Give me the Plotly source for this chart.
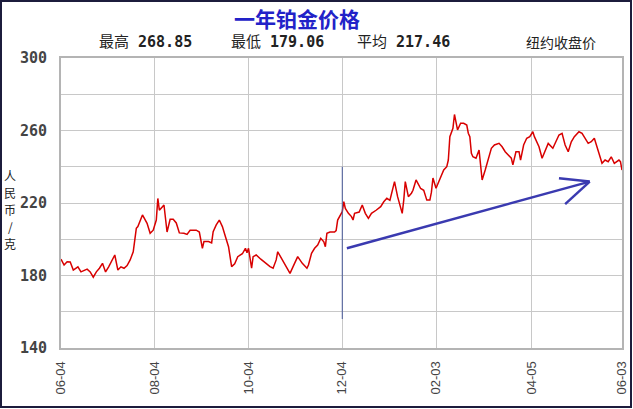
import pandas as pd
import plotly.graph_objects as go

# ---- data ----
start_date = "2003-06-04"
days = [0, 2, 4, 6, 8, 11, 13, 17, 19, 21, 23, 25, 27, 29, 31, 35, 37, 39, 41, 43, 45, 47, 49, 50,
        53, 55, 56, 58, 60, 62, 63, 64, 67, 69, 71, 73, 75, 77, 80, 82, 84, 88, 90, 92, 93, 96, 98,
        99, 101, 103, 105, 107, 109, 111, 113, 115, 118, 120, 121, 122, 124, 125, 127, 130, 132,
        134, 136, 138, 140, 141, 144, 146, 148, 149, 151, 153, 154, 157, 159, 160, 161, 163, 165,
        167, 169, 171, 172, 173, 175, 178, 179, 180, 183, 184, 185, 187, 189, 190, 191, 194, 196,
        198, 200, 202, 205, 208, 210, 212, 214, 216, 217, 219, 222, 223, 224, 226, 228, 229, 231,
        234, 236, 238, 240, 241, 242, 244, 247, 249, 251, 252, 253, 255, 256, 258, 260, 262, 264,
        265, 266, 267, 268, 270, 272, 273, 274, 276, 278, 280, 282, 285, 287, 289, 291, 293, 294,
        296, 298, 299, 301, 303, 305, 307, 308, 311, 313, 315, 317, 320, 324, 326, 328, 330, 332,
        334, 337, 339, 341, 343, 345, 347, 350, 352, 354, 356, 358, 360, 363, 364, 365]
prices = [189.0, 185.8, 187.6, 187.5, 183.0, 184.8, 182.0, 183.5, 182.0, 179.06, 182.0, 184.0, 186.7,
          182.0, 184.8, 191.3, 183.0, 184.8, 184.0, 185.5, 188.6, 193.1, 206.0, 207.0, 213.4, 210.5,
          208.8, 203.3, 205.0, 210.6, 222.5, 216.0, 218.9, 204.0, 211.0, 211.0, 209.0, 203.5, 203.3,
          202.7, 205.0, 205.0, 204.0, 195.0, 198.7, 198.7, 198.0, 204.2, 207.9, 210.6, 207.0, 201.4,
          195.9, 184.9, 186.5, 190.4, 192.0, 195.0, 192.5, 195.0, 184.0, 190.4, 191.3, 189.0, 187.6,
          185.8, 184.9, 184.0, 188.6, 193.1, 188.6, 185.8, 182.0, 181.2, 184.9, 188.6, 190.4, 186.7,
          184.9, 184.0, 185.8, 192.2, 195.0, 196.8, 200.5, 198.6, 195.9, 203.3, 204.0, 204.0, 204.8,
          210.6, 215.2, 220.7, 217.0, 214.3, 212.5, 210.6, 214.3, 215.0, 218.9, 214.3, 211.5, 214.3,
          216.0, 218.0, 220.7, 222.6, 221.5, 229.0, 231.8, 223.5, 214.3, 221.6, 231.8, 223.5, 225.4,
          227.0, 232.7, 228.0, 227.0, 221.6, 221.6, 226.0, 233.8, 228.1, 233.8, 238.2, 240.0, 243.7,
          256.6, 261.2, 268.85, 260.3, 264.0, 264.0, 263.0, 258.5, 256.6, 247.4, 245.5, 244.7, 249.2,
          239.1, 232.7, 238.2, 244.7, 250.2, 252.0, 252.9, 251.0, 248.3, 246.5, 244.7, 241.0, 248.3,
          248.3, 243.7, 252.0, 255.7, 256.6, 259.3, 256.6, 251.0, 244.7, 249.2, 252.9, 250.2, 257.5,
          258.4, 252.0, 248.3, 253.8, 256.6, 259.3, 258.4, 255.7, 252.9, 253.8, 255.7, 247.4, 241.9,
          243.7, 242.8, 245.5, 241.9, 243.7, 242.8, 238.2]

tick_dates = ["2003-06-04", "2003-08-04", "2003-10-04", "2003-12-04", "2004-02-03", "2004-04-05", "2004-06-03"]
tick_labels = ["06-04", "08-04", "10-04", "12-04", "02-03", "04-05", "06-03"]
y_ticks = [140, 160, 180, 200, 220, 240, 260, 280, 300]
y_labels = ["140", "", "180", "", "220", "", "260", "", "300"]

title_text = "一年铂金价格"
stat_names = ["最高", "最低", "平均"]
stat_values = ["268.85", "179.06", "217.46"]
note_text = "纽约收盘价"
y_title_chars = ["人", "民", "币", "/", "克"]

# blue marker line at 12-04 and hand-drawn trend arrow (data coordinates)
marker_day = 183
marker_range = [240, 156]
arrow_days = [186, 344]
arrow_vals = [195.0, 231.8]
wing_days = [324, 328]
wing_vals = [233.6, 219.4]

# ---- figure ----
base = pd.Timestamp(start_date)
def to_date(d):
    return base + pd.to_timedelta(d, unit="D")

x = [to_date(d) for d in days]

fig = go.Figure()
fig.add_trace(go.Scatter(x=x, y=prices, mode="lines",
                         line=dict(color="#d80000", width=1.5), hoverinfo="skip"))

ink = "#3a3ab0"
fig.add_shape(type="line", xref="x", yref="y",
              x0=to_date(marker_day), x1=to_date(marker_day),
              y0=marker_range[0], y1=marker_range[1],
              line=dict(color="#4a5a9a", width=1))
fig.add_shape(type="line", xref="x", yref="y",
              x0=to_date(arrow_days[0]), y0=arrow_vals[0],
              x1=to_date(arrow_days[1]), y1=arrow_vals[1],
              line=dict(color=ink, width=2.5))
for wd, wv in zip(wing_days, wing_vals):
    fig.add_shape(type="line", xref="x", yref="y",
                  x0=to_date(wd), y0=wv, x1=to_date(arrow_days[1]), y1=arrow_vals[1],
                  line=dict(color=ink, width=2.5))

# outer frame
fig.add_shape(type="rect", xref="paper", yref="paper",
              x0=-60 / 561, x1=570 / 561, y0=-59 / 290, y1=347 / 290,
              line=dict(color="#1c1c3c", width=2))

mono = "DejaVu Sans Mono, Noto Sans CJK SC"
cjk = "Noto Sans CJK SC"

fig.add_annotation(text="<b>%s</b>" % title_text, xref="paper", yref="paper",
                   x=(297 - 61) / 561, y=(348 - 18) / 290, showarrow=False,
                   font=dict(family=cjk, size=21, color="#2222c8"), xanchor="center", yanchor="middle")

stat_x = [97, 229, 355]
for sx, nm, vv in zip(stat_x, stat_names, stat_values):
    fig.add_annotation(text="%s <b>%s</b>" % (nm, vv), xref="paper", yref="paper",
                       x=(sx - 61) / 561, y=(348 - 42) / 290, showarrow=False,
                       font=dict(family=mono, size=15, color="#222222"),
                       xanchor="left", yanchor="middle")
fig.add_annotation(text=note_text, xref="paper", yref="paper",
                   x=(598 - 61) / 561, y=(348 - 42) / 290, showarrow=False,
                   font=dict(family=cjk, size=14, color="#222222"),
                   xanchor="right", yanchor="middle")

# vertical stacked axis title, one character per row
for i, ch in enumerate(y_title_chars):
    fig.add_annotation(text=ch, xref="paper", yref="paper",
                       x=(10 - 61) / 561, y=(348 - (175 + 17 * i)) / 290, showarrow=False,
                       font=dict(family=cjk, size=12, color="#222222"),
                       xanchor="center", yanchor="middle", borderpad=0)

fig.update_xaxes(type="date", range=[to_date(0), to_date(365)],
                 tickvals=[pd.Timestamp(t) for t in tick_dates], ticktext=tick_labels,
                 tickangle=-90, tickfont=dict(family="Liberation Sans", size=13, color="#444444"),
                 showgrid=True, gridcolor="#c8c8c8", gridwidth=1,
                 showline=True, linecolor="#b4b4b4", linewidth=2, mirror=True,
                 ticks="", ticklabelstandoff=6, zeroline=False, automargin=False)
fig.update_yaxes(range=[140, 300], tickvals=y_ticks,
                 ticktext=["<b>%s</b>" % t if t else "" for t in y_labels],
                 tickfont=dict(family="DejaVu Sans Mono", size=15, color="#444444"),
                 showgrid=True, gridcolor="#c8c8c8", gridwidth=1,
                 showline=True, linecolor="#b4b4b4", linewidth=2, mirror=True,
                 ticks="", ticklabelstandoff=9, zeroline=False, automargin=False)

fig.update_layout(width=633, height=409, margin=dict(l=61, r=11, t=58, b=61, autoexpand=False),
                  paper_bgcolor="white", plot_bgcolor="white", showlegend=False)

fig.write_html("out.html", config={"displayModeBar": False, "responsive": False},
               post_script="document.body.style.margin='0';document.body.style.padding='0';"
                           "document.body.style.overflow='hidden';")
